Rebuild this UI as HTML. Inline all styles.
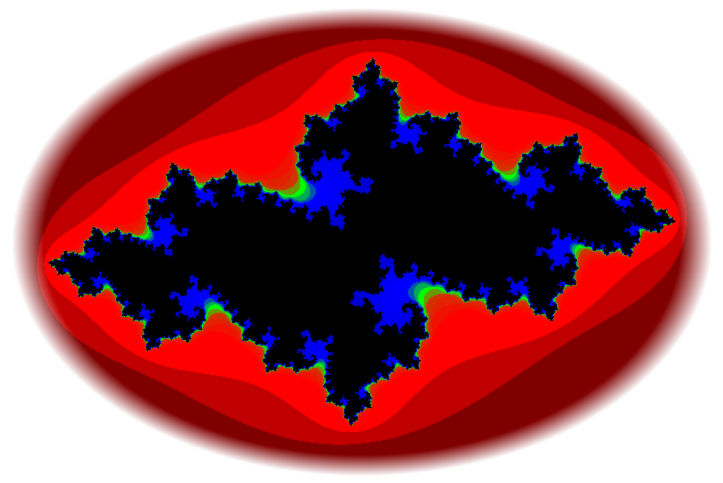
<!DOCTYPE html>
<html><head><meta charset="utf-8"><style>
html,body{margin:0;padding:0;background:#fff;width:723px;height:483px;overflow:hidden}
canvas{display:block}
</style></head><body>
<canvas id="c" width="723" height="483"></canvas>
<script>
const cParam = [-0.7269, 0.1889];
const viewRange = [1.72, 1.15];
const maxIter = [40];
const stopIters = [0, 2, 3, 4, 6, 9, 11, 14, 40];
const stopR = [128, 128, 192, 255, 255, 210, 0, 0, 0];
const stopG = [0, 0, 0, 0, 0, 50, 255, 0, 0];
const stopB = [0, 0, 0, 0, 0, 0, 0, 255, 200];
const cv = document.getElementById('c');
const ctx = cv.getContext('2d');
const W = cv.width, H = cv.height;
const img = ctx.createImageData(W, H);
function col(n){
  if (n <= 2) return [128, 0, 0];
  if (n === 3) return [192, 0, 0];
  for (let k = 1; k < stopIters.length; k++){
    if (n <= stopIters[k]){
      const t = (n - stopIters[k-1]) / (stopIters[k] - stopIters[k-1]);
      return [stopR[k-1] + t*(stopR[k]-stopR[k-1]), stopG[k-1] + t*(stopG[k]-stopG[k-1]), stopB[k-1] + t*(stopB[k]-stopB[k-1])];
    }
  }
  const L = stopIters.length - 1;
  return [stopR[L], stopG[L], stopB[L]];
}
for (let y = 0; y < H; y++){
  for (let x = 0; x < W; x++){
    let zx = viewRange[0] * (x - W/2) / (W/2);
    let zy = viewRange[1] * (y - H/2) / (H/2);
    let n = 0;
    while (zx*zx + zy*zy < 4 && n < maxIter[0]){
      const t = zx*zx - zy*zy + cParam[0];
      zy = 2*zx*zy + cParam[1];
      zx = t; n++;
    }
    const i = (y*W + x)*4;
    let c = (n >= maxIter[0]) ? [0,0,0] : col(n);
    const ex = (x - 361.5) / 350, ey = (y - 241.5) / 234;
    const d = Math.sqrt(ex*ex + ey*ey);
    let a = (d - 0.91) / 0.09;
    a = Math.max(0, Math.min(1, a));
    c = [c[0] + (255-c[0])*a, c[1] + (255-c[1])*a, c[2] + (255-c[2])*a];
    img.data[i] = c[0]; img.data[i+1] = c[1]; img.data[i+2] = c[2]; img.data[i+3] = 255;
  }
}
ctx.putImageData(img, 0, 0);
</script>
</body></html>
